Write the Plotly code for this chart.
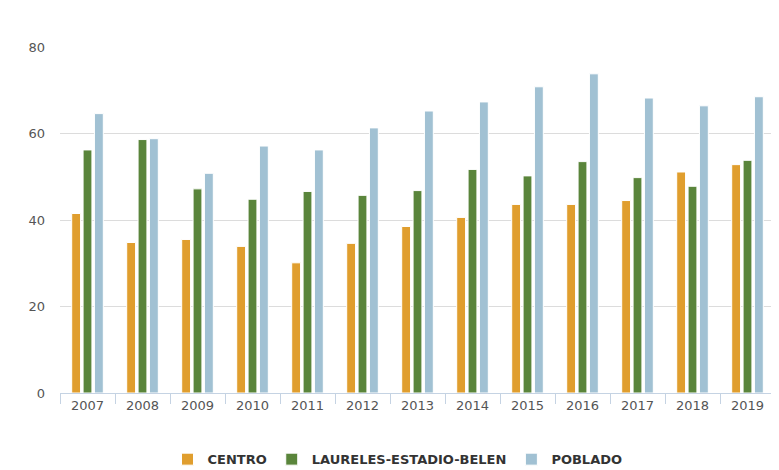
import plotly.graph_objects as go

years = ['2007', '2008', '2009', '2010', '2011', '2012', '2013',
         '2014', '2015', '2016', '2017', '2018', '2019']
centro = [41.5, 34.8, 35.5, 33.9, 30.1, 34.6, 38.5, 40.6, 43.6, 43.6, 44.5, 51.1, 52.8]
laureles = [56.2, 58.6, 47.2, 44.8, 46.6, 45.7, 46.8, 51.7, 50.2, 53.5, 49.8, 47.8, 53.8]
poblado = [64.6, 58.8, 50.8, 57.1, 56.2, 61.3, 65.2, 67.3, 70.8, 73.8, 68.2, 66.4, 68.5]

fig = go.Figure()
fig.add_trace(go.Bar(x=years, y=centro, name='CENTRO', marker_color='#e09e2e',
                     marker_line=dict(color='white', width=1)))
fig.add_trace(go.Bar(x=years, y=laureles, name='LAURELES-ESTADIO-BELEN', marker_color='#5a853b',
                     marker_line=dict(color='white', width=1)))
fig.add_trace(go.Bar(x=years, y=poblado, name='POBLADO', marker_color='#a1c1d3',
                     marker_line=dict(color='white', width=1)))

fig.update_layout(
    width=779, height=470,
    barmode='group', bargap=0.38, bargroupgap=0.22,
    plot_bgcolor='white', paper_bgcolor='white',
    margin=dict(l=52, r=12, t=39, b=85, autoexpand=False),
    font=dict(family='DejaVu Sans', color='#555555', size=13),
    showlegend=True,
    legend=dict(orientation='h', x=0.5, xanchor='center', xref='container',
                y=0.04, yanchor='middle', yref='container',
                font=dict(size=13, color='#333333', weight='bold'), itemwidth=30),
)
fig.update_xaxes(showline=True, linecolor='#c5d3e3', linewidth=1,
                 ticks='outside', tickson='boundaries', ticklen=10, tickcolor='#c5d3e3',
                 showgrid=False, automargin=False)
fig.update_yaxes(range=[0, 80], dtick=20, showgrid=True, gridcolor='#dcdcdc',
                 zeroline=False, ticklabelstandoff=14, automargin=False)
fig.write_html('out.html')
